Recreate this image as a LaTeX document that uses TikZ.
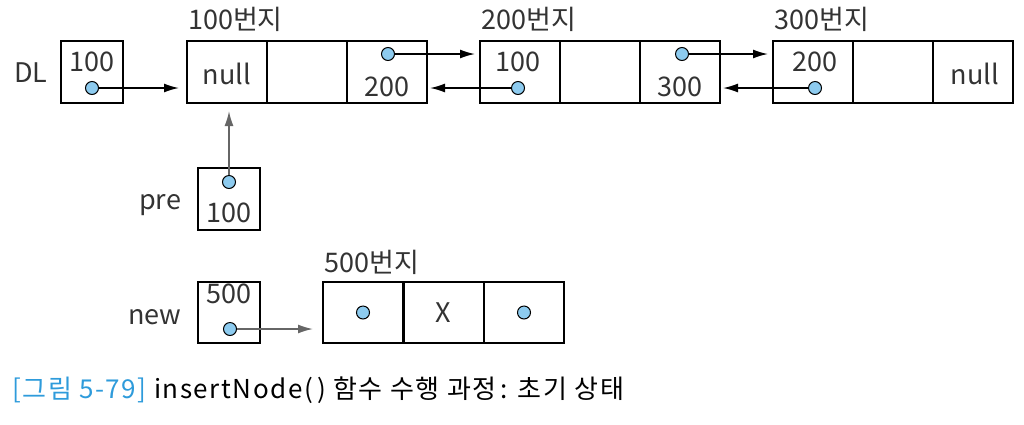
\documentclass[tikz,border=0pt]{standalone}
\usepackage{fontspec}
\setmainfont{Noto Sans CJK KR}
\usetikzlibrary{arrows.meta}
\usepackage{xcolor}
\definecolor{dotblue}{HTML}{8DCBEF}
\definecolor{capblue}{HTML}{2E9BDB}
\definecolor{txtgray}{HTML}{333333}

\tikzset{
  cell/.style={draw, line width=2pt, minimum width=80pt, minimum height=62pt,
    inner sep=0pt, outer sep=0pt, anchor=north west},
  varbox/.style={cell, minimum width=62pt},
  dot/.style={circle, draw, fill=dotblue, line width=1pt, minimum size=13pt, inner sep=0pt},
  txt/.style={text=txtgray, font=\fontsize{27}{32}\selectfont, inner sep=0pt},
  link/.style={line width=1.6pt, -{Latex[length=15pt,width=9pt]}},
  ptr/.style={link, draw=black!60}
}

\begin{document}
\begin{tikzpicture}[x=1pt, y=-1pt]
  \useasboundingbox (0,0) rectangle (1024,424);

  % the three list nodes, three cells each
  \foreach \i/\x/\addr in {1/187/100, 2/480/200, 3/773/300}{
    \foreach \j in {0,1,2}{
      \node[cell] (n\i-\j) at (\x+80*\j, 41) {};
    }
    \node[txt, anchor=west] (a\i) at (\x+1, 19) {\addr{}번지};
  }

  % head pointer DL
  \node[varbox] (dl) at (61,41) {};
  \node[txt] (dl-lbl) at (31,73) {DL};
  \node[txt] (dl-val) at (92,62) {100};
  \node[dot] (dl-dot) at (92,88) {};

  % node at 100
  \node[txt] (n1-null) at (227,74) {null};
  \node[dot] (n1-r) at (388,54) {};
  \node[txt] (n1-rval) at (387,87) {200};

  % node at 200
  \node[txt] (n2-lval) at (518,62) {100};
  \node[dot] (n2-l) at (518,88) {};
  \node[dot] (n2-r) at (682,54) {};
  \node[txt] (n2-rval) at (680,87) {300};

  % node at 300
  \node[txt] (n3-lval) at (815,62) {200};
  \node[dot] (n3-l) at (815,88) {};
  \node[txt] (n3-null) at (975,74) {null};

  % links
  \draw[link, shorten >=8pt] (dl-dot) -- (dl-dot -| n1-0.west);
  \draw[link, shorten >=5pt] (n1-r) -- (n1-r -| n2-0.west);
  \draw[link, shorten >=3pt] (n2-l) -- (n2-l -| n1-2.east);
  \draw[link, shorten >=5pt] (n2-r) -- (n2-r -| n3-0.west);
  \draw[link, shorten >=3pt] (n3-l) -- (n3-l -| n2-2.east);

  % pointer pre
  \node[varbox] (pre) at (198,168) {};
  \node[txt] (pre-lbl) at (160,205) {pre};
  \node[txt] (pre-val) at (229,213) {100};
  \node[dot] (pre-dot) at (229,182) {};
  \draw[ptr, shorten >=8pt] (pre-dot) -- (pre-dot |- n1-0.south);

  % new node at 500
  \foreach \j in {0,1,2}{
    \node[cell, minimum height=61pt] (m-\j) at (323+80.5*\j, 282) {};
  }
  \node[txt, anchor=west] (a5) at (324,262) {500번지};
  \node[dot] (m-l) at (m-0) {};
  \node[txt] (m-x) at (m-1) {X};
  \node[dot] (m-r) at (m-2) {};

  % pointer new
  \node[varbox, minimum height=61pt] (nw) at (198,282) {};
  \node[txt] (nw-lbl) at (155,317) {new};
  \node[txt] (nw-val) at (229,294) {500};
  \node[dot] (nw-dot) at (230,329) {};
  \draw[ptr, shorten >=10pt] (nw-dot) -- (nw-dot -| m-0.west);

  % caption
  \node[txt, anchor=west, text=black, font=\fontsize{26}{30}\selectfont\addfontfeatures{LetterSpace=6}] (cap) at (12,390)
    {\textcolor{capblue}{[그림 5-79]} insertNode(\,) 함수 수행 과정\,: 초기 상태};
\end{tikzpicture}
\end{document}
